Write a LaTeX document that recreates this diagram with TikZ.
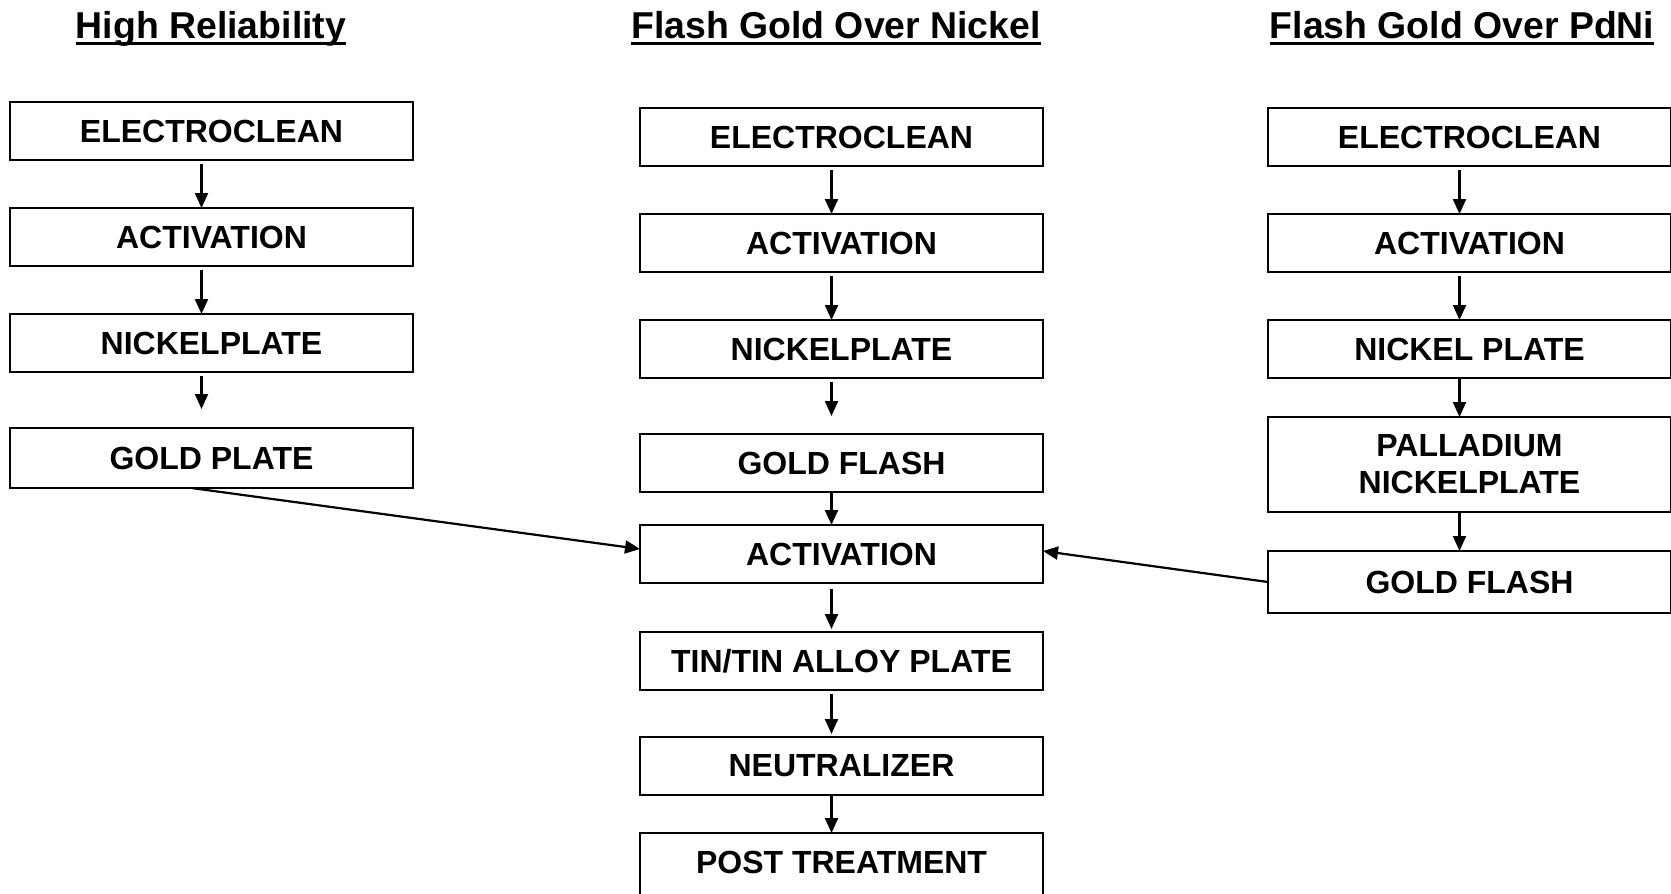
\documentclass[tikz,border=0pt]{standalone}
\usepackage{fontspec}
\setmainfont{Liberation Sans}
\usetikzlibrary{positioning,arrows.meta}

\newcommand{\ulined}[1]{\setbox0\hbox{#1}\rlap{\vrule height -3.5pt depth 6.5pt width \wd0}\box0}

\begin{document}
\begin{tikzpicture}[x=1pt, y=-1pt, node distance = 48pt,
  box/.style = {draw, line width=2.2pt, outer sep=0pt, minimum width=403pt,
    minimum height=58pt, align=center, font=\fontsize{32}{37}\selectfont\bfseries},
  title/.style = {anchor=base, font=\fontsize{37.4}{44}\selectfont\bfseries},
  arr/.style = {line width=2.2pt, -{Triangle[length=15pt,width=13pt]}},
  down/.style = {arr, shorten <=4pt, transform canvas={xshift=-10pt}}
  ]
  \useasboundingbox (0,0) rectangle (1671,894);

  % column titles
  \node[title] (hrel) at (211,38)  {\ulined{High Reliability}};
  \node[title] (fgni) at (836,38)  {\ulined{Flash Gold Over Nickel}};
  \node[title] (fgpd) at (1462,38) {\ulined{Flash Gold Over PdNi}};

  % high reliability
  \node[box] (hr1) at (211.5,131) {ELECTROCLEAN};
  \node[box, below=of hr1] (hr2) {ACTIVATION};
  \node[box, below=of hr2] (hr3) {NICKELPLATE};
  \node[box, below=56pt of hr3, minimum height=60pt] (hr4) {GOLD PLATE};

  % flash gold over nickel
  \node[box] (fn1) at (841.5,137) {ELECTROCLEAN};
  \node[box, below=of fn1] (fn2) {ACTIVATION};
  \node[box, below=of fn2] (fn3) {NICKELPLATE};
  \node[box, below=56pt of fn3] (fn4) {GOLD FLASH};
  \node[box, below=33pt of fn4] (fn5) {ACTIVATION};
  \node[box, below=49pt of fn5] (fn6) {TIN/TIN ALLOY PLATE};
  \node[box, below=47pt of fn6] (fn7) {NEUTRALIZER};
  \node[box, below=38pt of fn7, minimum height=66pt, text depth=8pt] (fn8) {POST TREATMENT};

  % flash gold over pdni
  \node[box] (fp1) at (1469.5,137) {ELECTROCLEAN};
  \node[box, below=of fp1] (fp2) {ACTIVATION};
  \node[box, below=of fp2] (fp3) {NICKEL PLATE};
  \node[box, below=39pt of fp3, minimum height=95pt] (fp4) {PALLADIUM\\NICKELPLATE};
  \node[box, below=39pt of fp4, minimum height=62pt] (fp5) {GOLD FLASH};

  \draw[down] (hr1) -- (hr2);
  \draw[down] (hr2) -- (hr3);
  \draw[down, shorten >=19pt] (hr3) -- (hr4);

  \draw[down] (fn1) -- (fn2);
  \draw[down] (fn2) -- (fn3);
  \draw[down, shorten >=18pt] (fn3) -- (fn4);
  \draw[down, shorten <=1pt] (fn4) -- (fn5);
  \draw[down, shorten <=6pt, shorten >=3pt] (fn5) -- (fn6);
  \draw[down, shorten >=3pt] (fn6) -- (fn7);
  \draw[down, shorten <=1pt] (fn7) -- (fn8);

  \draw[down] (fp1) -- (fp2);
  \draw[down] (fp2) -- (fp3);
  \draw[down, shorten <=1pt] (fp3) -- (fp4);
  \draw[down, shorten <=1pt] (fp4) -- (fp5);

  \draw[arr] ([xshift=-20pt]hr4.south) -- ([yshift=5pt]fn5.west);
  \draw[arr] (fp5.west) -- ([yshift=3pt]fn5.east);
\end{tikzpicture}
\end{document}
